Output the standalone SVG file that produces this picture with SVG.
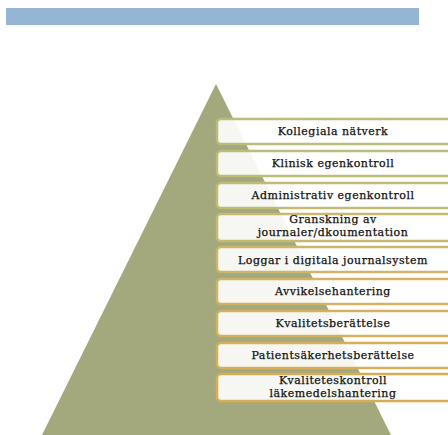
<svg xmlns="http://www.w3.org/2000/svg" width="448" height="435" viewBox="0 0 448 435">
<style>
.box{fill:#ffffff;fill-opacity:0.9;stroke-width:2.5}
.t{font-family:"DejaVu Serif","Liberation Serif",serif;font-size:11px;letter-spacing:0.5px;fill:#111111;stroke:#111111;stroke-width:0.25;text-anchor:middle}
</style>
<rect width="448" height="435" fill="#ffffff"/>
<rect id="banner" x="6" y="8" width="413" height="17" fill="#94b5d3"/>
<polygon id="pyramid" points="216,84 42,435 391,435" fill="#a3a87d"/>
<g id="connectors"></g>
<g id="n1"><rect class="box" x="217" y="119" width="240" height="25" rx="4" stroke="#bbbb7c"/><text class="t" x="333" y="135">Kollegiala nätverk</text></g>
<g id="n2"><rect class="box" x="217" y="151" width="240" height="25" rx="4" stroke="#bfbb78"/><text class="t" x="333" y="167">Klinisk egenkontroll</text></g>
<g id="n3"><rect class="box" x="217" y="183" width="240" height="25" rx="4" stroke="#c3ba74"/><text class="t" x="333" y="199">Administrativ egenkontroll</text></g>
<g id="n4"><rect class="box" x="217" y="214" width="240" height="27" rx="4" stroke="#c7b970"/><text class="t" x="333" y="223">Granskning av</text><text class="t" x="333" y="236">journaler/dkoumentation</text></g>
<g id="n5"><rect class="box" x="217" y="247" width="240" height="25" rx="4" stroke="#cbb76b"/><text class="t" x="333" y="264">Loggar i digitala journalsystem</text></g>
<g id="n6"><rect class="box" x="217" y="279" width="240" height="25" rx="4" stroke="#cfb466"/><text class="t" x="333" y="295">Avvikelsehantering</text></g>
<g id="n7"><rect class="box" x="217" y="311" width="240" height="25" rx="4" stroke="#d2b260"/><text class="t" x="333" y="327">Kvalitetsberättelse</text></g>
<g id="n8"><rect class="box" x="217" y="343" width="240" height="25" rx="4" stroke="#d5af5a"/><text class="t" x="333" y="359">Patientsäkerhetsberättelse</text></g>
<g id="n9"><rect class="box" x="217" y="374" width="240" height="27" rx="4" stroke="#d7ac55"/><text class="t" x="333" y="384">Kvaliteteskontroll</text><text class="t" x="333" y="397">läkemedelshantering</text></g>
</svg>
